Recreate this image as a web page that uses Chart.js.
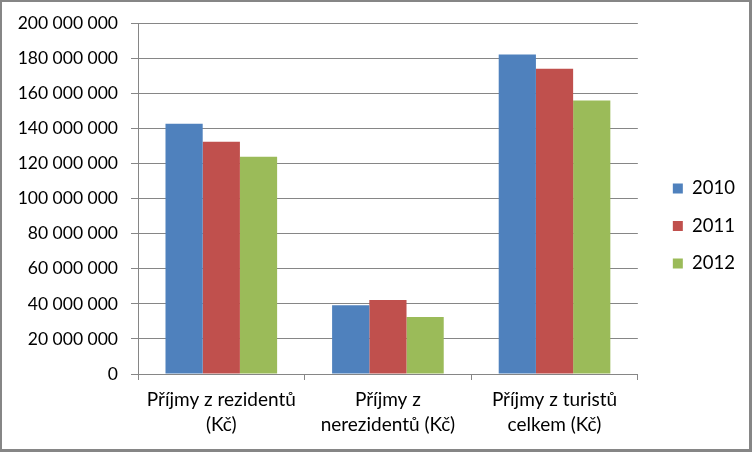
<!DOCTYPE html>
<html>
<head>
<meta charset="utf-8">
<script src="https://cdn.jsdelivr.net/npm/chart.js@4"></script>
<style>
  html, body { margin: 0; padding: 0; background: #fff; }
  #wrap { width: 752px; height: 452px; }
</style>
</head>
<body>
<div id="wrap"><canvas id="myChart" width="752" height="452"></canvas></div>
<script>
// categories (x axis), each label split into two lines like the original
const categories = [
    ['Příjmy z rezidentů', '(Kč)'],
    ['Příjmy z', 'nerezidentů (Kč)'],
    ['Příjmy z turistů', 'celkem (Kč)']
];

// one array per year, values in Kč
const years = ['2010', '2011', '2012'];
const values2010 = [142800000, 39300000, 182300000];
const values2011 = [132500000, 42200000, 174200000];
const values2012 = [124000000, 32500000, 156000000];

const yMax = 200000000;
const yStep = 20000000;

const font = 'Lato, "Open Sans", sans-serif';
const gridColor = '#868686';

// white background plus grey frame round the whole picture
const frame = {
    id: 'frame',
    beforeDraw(chart) {
        const c = chart.ctx;
        c.save();
        c.fillStyle = '#fff';
        c.fillRect(0, 0, chart.width, chart.height);
        c.restore();
    },
    afterLayout(chart) {
        // push the legend a bit further right, as in the original
        if (chart.legend) {
            chart.legend.left += 16;
            chart.legend.right += 16;
        }
    },
    afterDraw(chart) {
        const c = chart.ctx;
        const w = chart.width, h = chart.height;
        c.save();
        c.fillStyle = '#868686';
        c.fillRect(0, 0, w, 2);
        c.fillRect(0, 0, 2, h);
        c.fillRect(w - 3, 0, 3, h);
        c.fillRect(0, h - 3, w, 3);
        c.restore();
    }
};

var ctx = document.getElementById('myChart').getContext('2d');

var chart = new Chart(ctx, {
    type: 'bar',
    data: {
        labels: categories,
        datasets: [
            { label: years[0], data: values2010, backgroundColor: '#4F81BD' },
            { label: years[1], data: values2011, backgroundColor: '#C0504D' },
            { label: years[2], data: values2012, backgroundColor: '#9BBB59' }
        ]
    },
    options: {
        responsive: false,
        animation: false,
        layout: { padding: { top: 16, right: 23, bottom: 16, left: 0 } },
        datasets: {
            bar: { categoryPercentage: 0.67, barPercentage: 1.0 }
        },
        plugins: {
            tooltip: { enabled: false },
            legend: {
                position: 'right',
                labels: {
                    boxWidth: 10,
                    boxHeight: 10,
                    padding: 19,
                    color: '#000',
                    font: { family: font, size: 18.5 }
                }
            }
        },
        scales: {
            x: {
                grid: {
                    offset: true,
                    drawOnChartArea: false,
                    color: gridColor,
                    tickLength: 6
                },
                border: { color: gridColor },
                ticks: {
                    color: '#000',
                    maxRotation: 0,
                    padding: 8,
                    font: { family: font, size: 19, lineHeight: 1.3 }
                },
                afterFit(scale) { scale.height = 62; }
            },
            y: {
                min: 0,
                max: yMax,
                grid: { color: gridColor, tickLength: 7 },
                border: { color: gridColor },
                ticks: {
                    stepSize: yStep,
                    color: '#000',
                    padding: 13,
                    font: { family: font, size: 17.5 },
                    callback: (v) => String(v).replace(/\B(?=(\d{3})+(?!\d))/g, ' ')
                },
                afterFit(scale) { scale.width = 138; }
            }
        }
    },
    plugins: [frame]
});
</script>
</body>
</html>
